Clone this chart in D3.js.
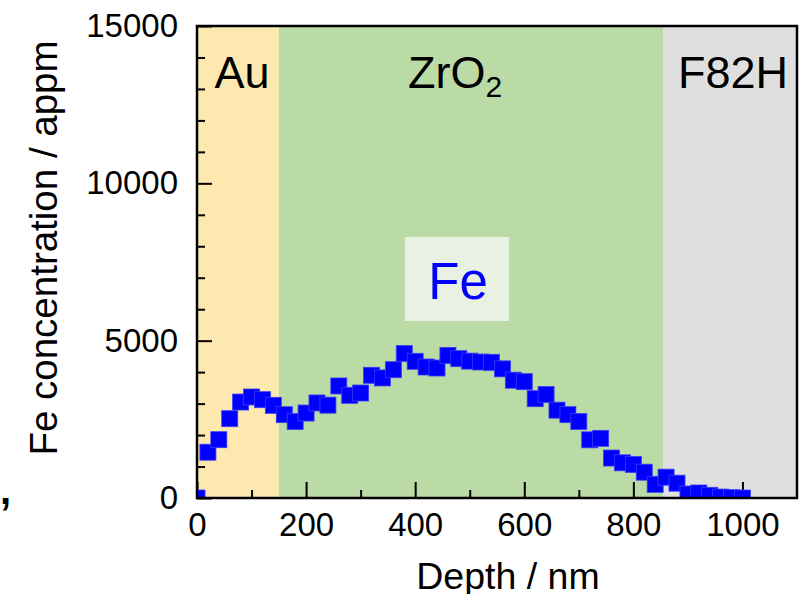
<!DOCTYPE html>
<html>
<head>
<meta charset="utf-8">
<script src="https://cdn.jsdelivr.net/npm/d3@7"></script>
<style>
  html, body { margin: 0; padding: 0; background: #fff; }
  svg { display: block; font-family: "Liberation Sans", Arial, sans-serif; }
</style>
</head>
<body>
<svg id="chart" width="803" height="594"></svg>
<script>
// Fe depth profile through the Au / ZrO2 / F82H layer stack
const depthNm = [0, 20, 40, 60, 80, 100, 120, 140, 160, 180,
  200, 220, 240, 260, 280, 300, 320, 340, 360, 380,
  400, 420, 440, 460, 480, 500, 520, 540, 560, 580,
  600, 620, 640, 660, 680, 700, 720, 740, 760, 780,
  800, 820, 840, 860, 880, 900, 920, 940, 960, 980, 1000];
const feAppm = [0, 1455, 1853, 2520, 3050, 3210, 3124, 2945, 2648, 2430,
  2700, 3020, 2950, 3560, 3263, 3337, 3900, 3815, 4077, 4590,
  4344, 4163, 4131, 4530, 4427, 4350, 4322, 4312, 4105, 3744,
  3696, 3156, 3289, 2791, 2648, 2430, 1849, 1896, 1270, 1118,
  1064, 820, 434, 662, 471, 127, 159, 85, 30, 10, 0];

// layer regions along the depth axis
const layerNames = ["Au", "ZrO2", "F82H"];
const layerStart = [0, 150, 855];
const layerEnd = [150, 855, 1100];
const layerColors = ["#fde9b0", "#badba6", "#dfdfdf"];

const xMajorTicks = [0, 200, 400, 600, 800, 1000];
const xMinorTicks = [100, 300, 500, 700, 900];
const yMajorTicks = [0, 5000, 10000, 15000];
const yMinorTicks = [1000, 2000, 3000, 4000, 6000, 7000, 8000, 9000, 11000, 12000, 13000, 14000];

const svg = d3.select("#chart");
const plotLeft = 197, plotRight = 797, plotTop = 26, plotBottom = 498;

const x = d3.scaleLinear().domain([0, 1100]).range([plotLeft, plotRight]);
const y = d3.scaleLinear().domain([0, 15000]).range([plotBottom, plotTop]);

svg.append("defs").append("clipPath").attr("id", "plotClip")
  .append("rect").attr("x", plotLeft).attr("y", plotTop)
  .attr("width", plotRight - plotLeft).attr("height", plotBottom - plotTop);

// layer background bands
svg.append("g").selectAll("rect").data(layerNames).join("rect")
  .attr("x", (d, i) => x(layerStart[i]))
  .attr("y", plotTop)
  .attr("width", (d, i) => x(layerEnd[i]) - x(layerStart[i]))
  .attr("height", plotBottom - plotTop)
  .attr("fill", (d, i) => layerColors[i]);

// layer names
const labelFont = 45;
svg.append("text").attr("x", 242).attr("y", 88).attr("text-anchor", "middle")
  .attr("font-size", labelFont).text("Au");
const zr = svg.append("text").attr("x", 455).attr("y", 88).attr("text-anchor", "middle")
  .attr("font-size", labelFont);
zr.append("tspan").text("ZrO");
zr.append("tspan").attr("font-size", 30).attr("dy", 9).text("2");
svg.append("text").attr("x", 733).attr("y", 88).attr("text-anchor", "middle")
  .attr("font-size", labelFont).text("F82H");

// element tag
svg.append("rect").attr("x", 405).attr("y", 237).attr("width", 104).attr("height", 84)
  .attr("fill", "#e9f2e2");
svg.append("text").attr("x", 458).attr("y", 299).attr("text-anchor", "middle")
  .attr("font-size", 51).attr("fill", "#0000ff").text("Fe");

// axes with inward ticks
const tickFont = 33;
const xAxis = svg.append("g").attr("transform", `translate(0,${plotBottom})`)
  .call(d3.axisBottom(x).tickValues(xMajorTicks).tickSize(-16).tickPadding(15).tickFormat(d3.format("d")));
const xMinor = svg.append("g").attr("transform", `translate(0,${plotBottom})`)
  .call(d3.axisBottom(x).tickValues(xMinorTicks).tickSize(-8).tickFormat(""));
const yAxis = svg.append("g").attr("transform", `translate(${plotLeft},0)`)
  .call(d3.axisLeft(y).tickValues(yMajorTicks).tickSize(-15).tickPadding(19).tickFormat(d3.format("d")));
const yMinor = svg.append("g").attr("transform", `translate(${plotLeft},0)`)
  .call(d3.axisLeft(y).tickValues(yMinorTicks).tickSize(-8).tickFormat(""));

[xAxis, xMinor, yAxis, yMinor].forEach(g => {
  g.select(".domain").remove();
  g.selectAll(".tick line").attr("stroke", "#000").attr("stroke-width", 2);
  g.selectAll(".tick text").attr("font-size", tickFont).attr("fill", "#000")
    .attr("font-family", "'Liberation Sans', Arial, sans-serif");
});

// data markers
const size = 16;
svg.append("g").attr("clip-path", "url(#plotClip)")
  .selectAll("rect").data(depthNm).join("rect")
  .attr("x", (d) => x(d) - size / 2)
  .attr("y", (d, i) => y(feAppm[i]) - size / 2)
  .attr("width", size).attr("height", size)
  .attr("fill", "#0000ff")
  .attr("stroke", "#3b3bf5").attr("stroke-width", 0.8);

// plot frame
svg.append("rect").attr("x", plotLeft).attr("y", plotTop)
  .attr("width", plotRight - plotLeft).attr("height", plotBottom - plotTop)
  .attr("fill", "none").attr("stroke", "#000").attr("stroke-width", 2.5);

// axis titles
svg.append("text").attr("x", 508).attr("y", 589).attr("text-anchor", "middle")
  .attr("font-size", 37.5).text("Depth / nm");
svg.append("text").attr("transform", "translate(57,248) rotate(-90)")
  .attr("text-anchor", "middle").attr("font-size", 38.5).text("Fe concentration / appm");

// punctuation at the left margin
svg.append("text").attr("x", 0).attr("y", 504).attr("font-size", 40)
  .attr("font-weight", "bold").text(",");
</script>
</body>
</html>
